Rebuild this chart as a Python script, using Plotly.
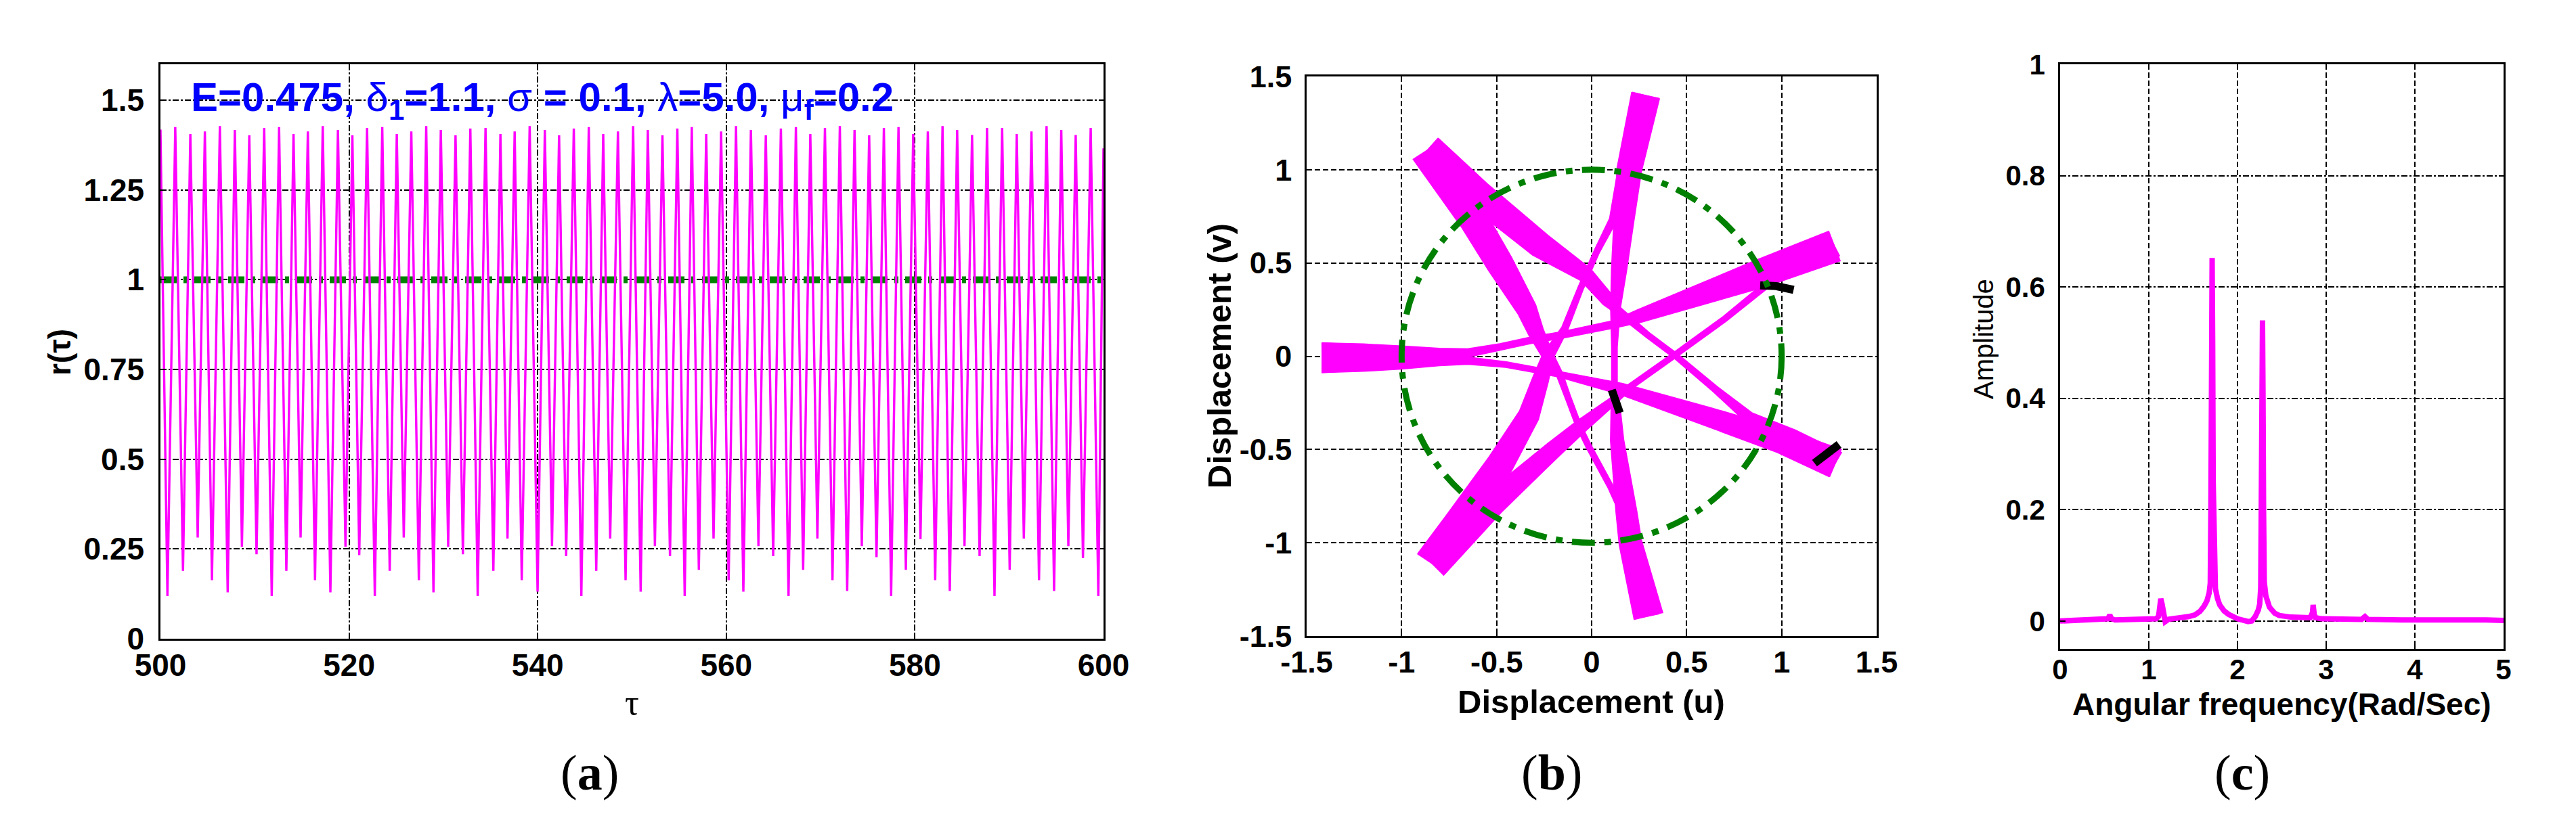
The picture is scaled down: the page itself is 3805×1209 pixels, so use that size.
import numpy as np
import plotly.graph_objects as go

# ---------------- (a) r(tau) time series ----------------
tau_start, r_start = 500.0, 1.418
tau_end, r_end = 600.0, 1.366
trough_tau = [
    500.74, 502.39, 503.95, 505.46, 507.13, 508.64, 510.19, 511.80, 513.35, 514.86, 516.39,
    518.02, 519.62, 521.08, 522.73, 524.31, 525.80, 527.40, 528.95, 530.51, 532.07, 533.64,
    535.30, 536.80, 538.31, 539.99, 541.52, 543.02, 544.63, 546.21, 547.69, 549.32, 550.92,
    552.43, 554.03, 555.59, 557.09, 558.65, 560.25, 561.81, 563.41, 564.97, 566.60,
    568.15, 569.66, 571.26, 572.82, 574.37, 575.93, 577.48, 579.04, 580.59, 582.15, 583.70,
    585.26, 586.86, 588.44, 590.05, 591.55, 593.16, 594.76, 596.27, 597.82, 599.45]
trough_r = [
    0.119, 0.189, 0.282, 0.163, 0.129, 0.256, 0.235, 0.119, 0.189, 0.282, 0.163,
    0.129, 0.256, 0.233, 0.119, 0.189, 0.282, 0.163, 0.129, 0.256, 0.235, 0.119,
    0.189, 0.279, 0.163, 0.131, 0.258, 0.230, 0.119, 0.189, 0.279, 0.163, 0.131,
    0.258, 0.230, 0.119, 0.192, 0.279, 0.163, 0.131, 0.258, 0.230, 0.119,
    0.192, 0.279, 0.163, 0.133, 0.258, 0.227, 0.119, 0.192, 0.277, 0.163, 0.133,
    0.258, 0.230, 0.119, 0.192, 0.279, 0.163, 0.133, 0.258, 0.225, 0.119]
peak_tau = [
    501.57, 503.17, 504.71, 506.30, 507.89, 509.42, 511.00, 512.58, 514.11, 515.63, 517.21,
    518.82, 520.35, 521.91, 523.52, 525.06, 526.60, 528.18, 529.73, 531.29, 532.86,
    534.47, 536.05, 537.56, 539.15, 540.76, 542.27, 543.83, 545.42, 546.95, 548.51, 550.12,
    551.68, 553.23, 554.81, 556.34, 557.87, 559.45, 561.03, 562.61, 564.19, 565.79,
    567.38, 568.91, 570.46, 572.04, 573.60, 575.15, 576.71, 578.26, 579.82, 581.37, 582.93,
    584.48, 586.06, 587.65, 589.25, 590.80, 592.36, 593.96, 595.52, 597.05, 598.64]
peak_r = [
    1.425, 1.406, 1.413, 1.428, 1.417, 1.402, 1.423,
    1.425, 1.406, 1.413, 1.428, 1.417, 1.402, 1.423,
    1.425, 1.406, 1.413, 1.428, 1.417, 1.402, 1.421,
    1.423, 1.406, 1.413, 1.428, 1.417, 1.402, 1.421,
    1.425, 1.406, 1.413, 1.428, 1.417, 1.402, 1.421,
    1.425, 1.406, 1.413, 1.428, 1.417, 1.402, 1.421,
    1.425, 1.406, 1.423, 1.428, 1.417, 1.402, 1.423,
    1.425, 1.406, 1.413, 1.428, 1.417, 1.403, 1.423,
    1.423, 1.406, 1.413, 1.428, 1.417, 1.403, 1.423]
ref_level = 1.0

# ---------------- (b) phase portrait (u, v): bands (centre-line u, v and width w) ----------------
s1_u = [-1.418, -1.20, -1.00, -0.80, -0.65, -0.48, -0.30, -0.15, 0.12, 0.25, 0.50, 0.88, 1.278]
s1_v = [-0.008, -0.004, 0.000, 0.008, 0.018, 0.050, 0.090, 0.115, 0.172, 0.215, 0.305, 0.440, 0.591]
s1_w = [0.160, 0.140, 0.110, 0.070, 0.045, 0.035, 0.035, 0.035, 0.040, 0.070, 0.100, 0.150, 0.170]

s2_u = [1.278, 1.10, 0.93, 0.70, 0.437, 0.20, 0.10, -0.05, -0.20, -0.52, -0.842]
s2_v = [0.591, 0.50, 0.39, 0.20, 0.006, -0.165, -0.25, -0.37, -0.50, -0.79, -1.110]
s2_w = [0.120, 0.070, 0.035, 0.030, 0.030, 0.030, 0.045, 0.070, 0.090, 0.130, 0.180]

s3_u = [-0.842, -0.70, -0.48, -0.33, -0.268, -0.23, -0.141, -0.056, 0.028, 0.113, 0.17, 0.23, 0.284]
s3_v = [-1.110, -0.90, -0.576, -0.317, -0.123, 0.00, 0.149, 0.369, 0.563, 0.732, 0.95, 1.18, 1.398]
s3_w = [0.180, 0.160, 0.140, 0.110, 0.085, 0.060, 0.035, 0.030, 0.030, 0.040, 0.080, 0.110, 0.140]

s4_u = [0.284, 0.198, 0.169, 0.144, 0.125, 0.120, 0.120, 0.125, 0.134, 0.183, 0.204, 0.299]
s4_v = [1.398, 1.00, 0.72, 0.46, 0.25, 0.05, -0.15, -0.25, -0.45, -0.835, -1.00, -1.393]
s4_w = [0.150, 0.130, 0.105, 0.080, 0.050, 0.030, 0.030, 0.045, 0.070, 0.110, 0.120, 0.155]

s5_u = [0.299, 0.23, 0.17, 0.10, -0.014, -0.07, -0.127, -0.169, -0.234, -0.293, -0.341, -0.481, -0.62, -0.866]
s5_v = [-1.393, -1.05, -0.84, -0.70, -0.486, -0.369, -0.214, -0.097, 0.010, 0.130, 0.251, 0.493, 0.73, 1.104]
s5_w = [0.110, 0.080, 0.045, 0.030, 0.030, 0.030, 0.030, 0.035, 0.060, 0.083, 0.105, 0.140, 0.150, 0.176]

s6_u = [-0.866, -0.60, -0.27, -0.032, 0.087, 0.14, 0.30, 0.437, 0.65, 0.83, 1.05, 1.283]
s6_v = [1.104, 0.87, 0.595, 0.438, 0.300, 0.245, 0.11, 0.006, -0.176, -0.33, -0.44, -0.573]
s6_w = [0.176, 0.150, 0.134, 0.082, 0.070, 0.040, 0.030, 0.030, 0.035, 0.060, 0.100, 0.130]

s7_u = [1.283, 1.00, 0.60, 0.155, -0.169, -0.45, -0.65, -0.80, -1.00, -1.20, -1.418]
s7_v = [-0.573, -0.455, -0.32, -0.175, -0.097, -0.045, -0.024, -0.018, -0.014, -0.011, -0.008]
s7_w = [0.160, 0.130, 0.100, 0.060, 0.030, 0.030, 0.040, 0.065, 0.110, 0.140, 0.160]

mark1_u = [0.887, 0.972, 1.063]
mark1_v = [0.380, 0.376, 0.356]
mark2_u = [0.106, 0.125, 0.148]
mark2_v = [-0.181, -0.245, -0.304]
mark3_u = [1.173, 1.245, 1.302]
mark3_v = [-0.573, -0.515, -0.473]
circle_radius = 1.0

# ---------------- (c) amplitude spectrum ----------------
omega = [0.0, 0.30, 0.50, 0.54, 0.56, 0.58, 0.62, 0.96, 1.08, 1.11,
         1.125, 1.135, 1.15, 1.17, 1.185, 1.22, 1.35, 1.45, 1.52, 1.575,
         1.62, 1.655, 1.68, 1.693, 1.700, 1.706, 1.714, 1.720, 1.726, 1.735,
         1.751, 1.775, 1.80, 1.85, 1.90, 2.00, 2.08, 2.12, 2.16, 2.20,
         2.235, 2.25, 2.262, 2.270, 2.276, 2.282, 2.288, 2.294, 2.302, 2.32,
         2.36, 2.42, 2.47, 2.60, 2.73, 2.82, 2.845, 2.853, 2.865, 2.88,
         2.95, 3.05, 3.40, 3.437, 3.47, 3.85, 4.30, 4.59, 4.80, 5.0]
amplitude = [0.0, 0.001, 0.002, 0.004, 0.011, 0.004, 0.002, 0.0035, 0.004, 0.008,
             0.032, 0.040, 0.030, 0.004, -0.001, 0.003, 0.005, 0.008, 0.011, 0.017,
             0.026, 0.036, 0.050, 0.068, 0.200, 0.450, 0.652, 0.500, 0.250, 0.090,
             0.058, 0.040, 0.029, 0.018, 0.012, 0.004, 0.000, -0.001, 0.000, 0.008,
             0.020, 0.030, 0.060, 0.200, 0.400, 0.540, 0.400, 0.200, 0.070, 0.045,
             0.025, 0.014, 0.010, 0.007, 0.006, 0.006, 0.015, 0.029, 0.012, 0.006,
             0.004, 0.0035, 0.003, 0.008, 0.003, 0.002, 0.002, 0.004, 0.002, 0.001]

a_yticks = [0, 0.25, 0.5, 0.75, 1, 1.25, 1.5]
a_yticktext = ["0", "0.25", "0.5", "0.75", "1", "1.25", "1.5"]
a_xticks = [500, 520, 540, 560, 580, 600]
b_ticks = [-1.5, -1, -0.5, 0, 0.5, 1, 1.5]
b_ticktext = ["-1.5", "-1", "-0.5", "0", "0.5", "1", "1.5"]
c_xticks = [0, 1, 2, 3, 4, 5]
c_yticks = [0, 0.2, 0.4, 0.6, 0.8, 1]
c_yticktext = ["0", "0.2", "0.4", "0.6", "0.8", "1"]

MAGENTA = "#FF00FF"
GREEN = "#008000"
W, H = 3805, 1209

fig = go.Figure()

# ---- (a)
ts_x = [tau_start]
ts_y = [r_start]
for i in range(len(trough_tau)):
    ts_x.append(trough_tau[i]); ts_y.append(trough_r[i])
    if i < len(peak_tau):
        ts_x.append(peak_tau[i]); ts_y.append(peak_r[i])
ts_x.append(tau_end); ts_y.append(r_end)

fig.add_trace(go.Scatter(x=[a_xticks[0], a_xticks[-1]], y=[ref_level, ref_level], mode="lines",
                         line=dict(color=GREEN, width=10, dash="24px,10px,6px,10px"),
                         xaxis="x", yaxis="y", hoverinfo="skip"))
fig.add_trace(go.Scatter(x=ts_x, y=ts_y, mode="lines", line=dict(color=MAGENTA, width=3.4),
                         xaxis="x", yaxis="y", hoverinfo="skip"))

# ---- (b)
def band_polygon(u, v, w):
    u = np.asarray(u, float); v = np.asarray(v, float); w = np.asarray(w, float)
    du = np.gradient(u); dv = np.gradient(v)
    n = np.hypot(du, dv)
    nx, ny = -dv / n, du / n
    lu, lv = u + nx * w / 2, v + ny * w / 2
    ru, rv = u - nx * w / 2, v - ny * w / 2
    pu = np.concatenate([lu, ru[::-1], lu[:1]])
    pv = np.concatenate([lv, rv[::-1], lv[:1]])
    return pu, pv

strokes = [(s1_u, s1_v, s1_w), (s2_u, s2_v, s2_w), (s3_u, s3_v, s3_w), (s4_u, s4_v, s4_w),
           (s5_u, s5_v, s5_w), (s6_u, s6_v, s6_w), (s7_u, s7_v, s7_w)]
for su, sv, sw in strokes:
    pu, pv = band_polygon(su, sv, sw)
    fig.add_trace(go.Scatter(x=pu, y=pv, mode="lines", fill="toself", fillcolor=MAGENTA,
                             line=dict(color=MAGENTA, width=1.5),
                             xaxis="x2", yaxis="y2", hoverinfo="skip"))

for mu, mv in [(mark1_u, mark1_v), (mark2_u, mark2_v), (mark3_u, mark3_v)]:
    fig.add_trace(go.Scatter(x=mu, y=mv, mode="lines", line=dict(color="black", width=12),
                             xaxis="x2", yaxis="y2", hoverinfo="skip"))

fig.add_shape(type="circle", xref="x2", yref="y2",
              x0=-circle_radius, y0=-circle_radius, x1=circle_radius, y1=circle_radius,
              line=dict(color=GREEN, width=9, dash="34px,14px,10px,14px"), layer="above")

# ---- (c)
fig.add_trace(go.Scatter(x=omega, y=amplitude, mode="lines", line=dict(color=MAGENTA, width=8),
                         xaxis="x3", yaxis="y3", hoverinfo="skip"))

FONT = "Liberation Sans"

def ax(domain, rng, tickvals, ticktext, anchor, size, standoff, griddash):
    return dict(domain=domain, range=rng, anchor=anchor, tickmode="array",
                tickvals=tickvals, ticktext=["<b>%s</b>" % t for t in ticktext],
                tickfont=dict(family=FONT, size=size, color="black"),
                showline=True, linecolor="black", linewidth=2.5, mirror=True,
                ticks="inside", ticklen=8, tickwidth=2, tickcolor="black",
                showgrid=True, gridcolor="black", gridwidth=1.5, griddash=griddash,
                zeroline=False, ticklabelstandoff=standoff, automargin=False,
                fixedrange=True)

def px(x):
    return x / W

def py(y):
    return 1 - y / H

fig.update_layout(
    template="none",
    width=W, height=H, margin=dict(l=0, r=0, t=0, b=0, pad=0, autoexpand=False),
    paper_bgcolor="white", plot_bgcolor="white", showlegend=False,
    font=dict(family=FONT, color="black"),
    xaxis=ax([px(229), px(1622)], [500, 600], a_xticks, [str(t) for t in a_xticks], "y", 46, -3, "dashdot"),
    yaxis=ax([py(936), py(87)], [0, 1.6], a_yticks, a_yticktext, "x", 46, 12, "dashdot"),
    xaxis2=ax([px(1922), px(2764)], [-1.5, 1.5], b_ticks, b_ticktext, "y2", 45, -3, "8px,4px"),
    yaxis2=ax([py(932), py(105)], [-1.5, 1.5], b_ticks, b_ticktext, "x2", 45, 10, "8px,4px"),
    xaxis3=ax([px(3035), px(3690)], [0, 5], c_xticks, [str(t) for t in c_xticks], "y3", 42, -8, "8px,4px"),
    yaxis3=ax([py(951), py(87)], [-0.05, 1], c_yticks, c_yticktext, "x3", 42, 11, "dashdot"),
)

def note(text, x, y, size, angle=0, family=FONT, color="black", xanchor="center"):
    fig.add_annotation(text=text, x=px(x), y=py(y), xref="paper", yref="paper",
                       showarrow=False, textangle=angle, xanchor=xanchor, yanchor="middle",
                       font=dict(family=family, size=size, color=color))

note("<b>r(τ)</b>", 80, 513, 46, angle=-90)
note("τ", 925, 1030, 52, family="Liberation Serif")
note("<b>Displacement (v)</b>", 1793, 518, 49, angle=-90)
note("<b>Displacement (u)</b>", 2342, 1029, 49)
note("Amplitude", 2922, 493, 40, angle=-90)
note("<b>Angular frequency(Rad/Sec)</b>", 3362, 1033, 46)
note("(<b>a</b>)", 863, 1134, 74, family="Liberation Serif")
note("(<b>b</b>)", 2284, 1134, 74, family="Liberation Serif")
note("(<b>c</b>)", 3304, 1134, 74, family="Liberation Serif")
note("<b>E=0.475,</b> δ<sub><b>1</b></sub><b>=1.1,</b> σ<b> = 0.1,</b> λ<b>=5.0,</b> μ<sub><b>f</b></sub><b>=0.2</b>",
     272, 140, 60, color="#0000FF", xanchor="left")

fig.write_html("out.html")
